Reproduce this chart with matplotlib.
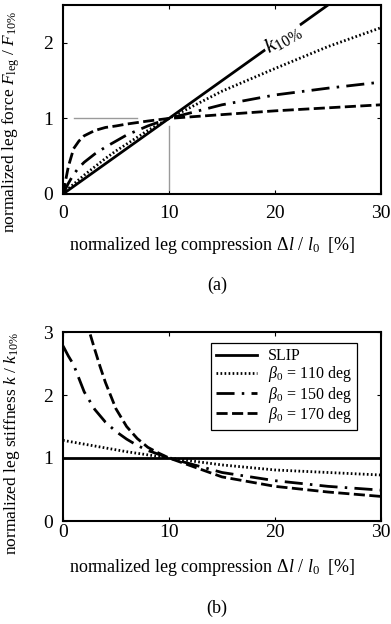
import matplotlib
matplotlib.use("Agg")
import matplotlib.pyplot as plt

plt.rcParams['font.family'] = ['Liberation Serif', 'DejaVu Serif']
plt.rcParams['mathtext.fontset'] = 'custom'
plt.rcParams['mathtext.rm'] = 'Liberation Serif'
plt.rcParams['mathtext.it'] = 'Liberation Serif:italic'
plt.rcParams['mathtext.bf'] = 'Liberation Serif:bold'

# ---------------- data: (a) normalized leg force ----------------
x_slip_f = [0, 30]
f_slip = [0, 3.0]

x_f = [0, 0.5, 1, 1.5, 2, 3, 4, 5, 6, 7, 8, 10, 15, 20, 25, 30]
f_110 = [0, 0.07, 0.13, 0.19, 0.25, 0.36, 0.47, 0.57, 0.66, 0.75, 0.84, 1.0, 1.36, 1.66, 1.95, 2.2]
f_150 = [0, 0.14, 0.26, 0.35, 0.42, 0.53, 0.62, 0.70, 0.78, 0.84, 0.90, 1.0, 1.18, 1.31, 1.40, 1.48]
f_170 = [0, 0.36, 0.60, 0.70, 0.77, 0.84, 0.88, 0.90, 0.925, 0.945, 0.965, 1.0, 1.05, 1.10, 1.14, 1.18]

# ---------------- data: (b) normalized leg stiffness ----------------
x_slip_k = [0, 30]
k_slip = [1, 1]

x_k110 = [0, 2, 4, 6, 8, 10, 15, 20, 25, 30]
k_110 = [1.28, 1.22, 1.16, 1.10, 1.05, 1.0, 0.89, 0.81, 0.77, 0.73]

x_k150 = [0, 0.5, 1, 2, 3, 4, 5, 6, 7, 8, 10, 15, 20, 25, 30]
k_150 = [2.78, 2.62, 2.48, 2.05, 1.77, 1.57, 1.42, 1.30, 1.20, 1.12, 1.0, 0.77, 0.64, 0.55, 0.49]

x_k170 = [2.2, 2.5, 3, 3.5, 4, 5, 6, 7, 8, 9, 10, 15, 20, 25, 30]
k_170 = [3.2, 3.0, 2.72, 2.45, 2.2, 1.78, 1.50, 1.31, 1.17, 1.08, 1.0, 0.70, 0.55, 0.46, 0.39]

x_ticks = [0, 10, 20, 30]
labels = ['SLIP', r'$\beta_0$ = 110 deg', r'$\beta_0$ = 150 deg', r'$\beta_0$ = 170 deg']

# ---------------- styles ----------------
LW = 2.0
sty_slip = dict(color='black', lw=LW, linestyle='-')
sty_110 = dict(color='black', lw=LW, linestyle=(0, (0.6, 0.85)))
sty_150 = dict(color='black', lw=LW, linestyle=(0, (6.5, 2.6, 0.9, 2.6)))
sty_170 = dict(color='black', lw=LW, linestyle=(0, (4.0, 1.6)))

W, H = 391, 624
fig = plt.figure(figsize=(W / 100, H / 100), dpi=100)

def px_axes(l, r, t, b):
    return fig.add_axes([l / W, 1 - b / H, (r - l) / W, (b - t) / H])

FS = 13
TFS = 14

def style_axes(ax, pad):
    for s in ax.spines.values():
        s.set_linewidth(1.5)
    ax.tick_params(direction='in', top=True, right=True, length=3, width=0.8,
                   labelsize=TFS)
    ax.tick_params(axis='x', pad=pad)
    ax.tick_params(axis='y', pad=7)

# ---------------- (a) ----------------
ax1 = px_axes(63, 381, 5, 194)
ax1.plot([1, 7], [1, 1], color='#9a9a9a', lw=1.0)
ax1.plot([10, 10], [0.05, 0.9], color='#9a9a9a', lw=1.0)
ax1.plot(x_slip_f, f_slip, **sty_slip)
ax1.plot(x_f, f_110, **sty_110)
ax1.plot(x_f, f_150, **sty_150)
ax1.plot(x_f, f_170, **sty_170)
ax1.set_xlim(0, 30)
ax1.set_ylim(0, 2.5)
ax1.set_xticks(x_ticks)
ax1.set_yticks([0, 1, 2])
style_axes(ax1, 8)
ax1.text(20.8, 2.05, r'$k_{10\%}$', fontsize=16, rotation=30, ha='center', va='center',
         bbox=dict(facecolor='white', edgecolor='none', pad=1.0), zorder=5)
ax1.set_xlabel(r'normalized leg compression $\Delta l$ / $l_0$  [%]', fontsize=FS)
ax1.xaxis.set_label_coords(0.47, -0.215)
ax1.set_ylabel(r'normalized leg force $F_{\rm leg}$ / $F_{10\%}$', fontsize=12.5)
ax1.yaxis.set_label_coords(-0.13, 0.38)
fig.text(217 / W, 1 - 285 / H, '(a)', fontsize=FS, ha='center', va='center')

# ---------------- (b) ----------------
ax2 = px_axes(63, 381, 332, 521)
ax2.plot(x_slip_k, k_slip, label=labels[0], **sty_slip)
ax2.plot(x_k110, k_110, label=labels[1], **sty_110)
ax2.plot(x_k150, k_150, label=labels[2], **sty_150)
ax2.plot(x_k170, k_170, label=labels[3], **sty_170)
ax2.set_xlim(0, 30)
ax2.set_ylim(0, 3)
ax2.set_xticks(x_ticks)
ax2.set_yticks([0, 1, 2, 3])
style_axes(ax2, 2)
leg = ax2.legend(loc='upper right', bbox_to_anchor=(0.925, 0.94), fontsize=11.5,
                 frameon=True, fancybox=False, edgecolor='black', framealpha=1,
                 handlelength=2.6, handletextpad=0.7, labelspacing=0.02,
                 borderpad=0.3, borderaxespad=0)
leg.get_frame().set_linewidth(0.9)
ax2.set_xlabel(r'normalized leg compression $\Delta l$ / $l_0$  [%]', fontsize=FS)
ax2.xaxis.set_label_coords(0.47, -0.19)
ax2.set_ylabel(r'normalized leg stiffness $k$ / $k_{10\%}$', fontsize=12.5)
ax2.yaxis.set_label_coords(-0.13, 0.41)
fig.text(217 / W, 1 - 608 / H, '(b)', fontsize=FS, ha='center', va='center')

fig.savefig('out.png', dpi=100)
